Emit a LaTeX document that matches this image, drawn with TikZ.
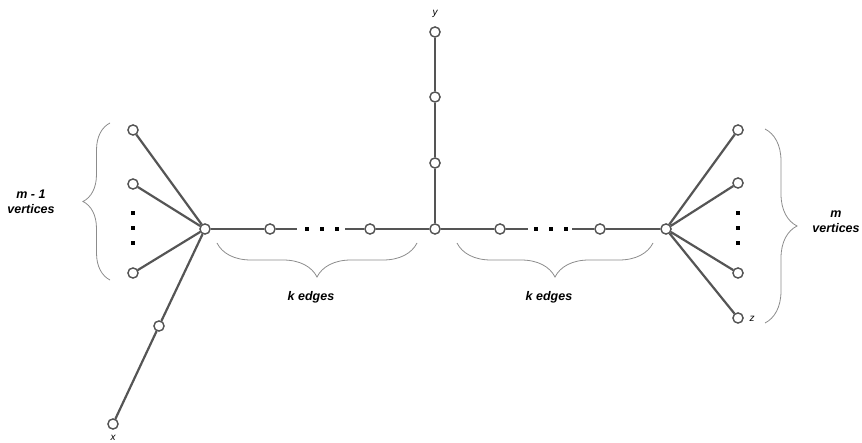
\documentclass[tikz,border=0pt]{standalone}
\usepackage{fontspec}
\setmainfont{Liberation Sans}
\usetikzlibrary{decorations.pathreplacing}
\definecolor{edgegray}{RGB}{85,85,85}
\definecolor{bracegray}{RGB}{140,140,140}
\begin{document}
\begin{tikzpicture}[x=1pt,y=-1pt,
  vtx/.style={circle,draw=edgegray,fill=white,line width=1.3pt,inner sep=0pt,minimum size=10pt},
  edge/.style={draw=edgegray,line width=2.2pt},
  dotmark/.style={rectangle,fill=black,inner sep=0pt,minimum size=4pt},
  bracestyle/.style={draw=bracegray,line width=0.8pt,decorate,decoration={brace,amplitude=#1}},
  bigtext/.style={font=\fontsize{12.5}{15}\selectfont\bfseries\itshape,align=center},
  lbl/.style={font=\fontsize{10}{12}\selectfont\itshape}]
\useasboundingbox (0,0) rectangle (862,443);
% coordinates for line ends near dots
\coordinate (la) at (297,229);
\coordinate (lb) at (345,229);
\coordinate (ra) at (528,229);
\coordinate (rb) at (572,229);
% nodes
\node[vtx] (L) at (205,229) {};
\node[vtx] (C) at (435,229) {};
\node[vtx] (R) at (666,229) {};
\node[vtx] (l1) at (133,130) {};
\node[vtx] (l2) at (133,184) {};
\node[vtx] (l3) at (133,273) {};
\node[vtx] (x1) at (159,326) {};
\node[vtx] (x) at (113,424) {};
\node[vtx] (p1) at (270,229) {};
\node[vtx] (p2) at (370,229) {};
\node[vtx] (q1) at (500,229) {};
\node[vtx] (q2) at (600,229) {};
\node[vtx] (y1) at (435,163) {};
\node[vtx] (y2) at (435,97) {};
\node[vtx] (y) at (435,32) {};
\node[vtx] (r1) at (738,130) {};
\node[vtx] (r2) at (738,183) {};
\node[vtx] (r3) at (738,273) {};
\node[vtx] (z) at (738,318) {};
% dots
\node[dotmark] (ld1) at (133,213) {};
\node[dotmark] (ld2) at (133,228) {};
\node[dotmark] (ld3) at (133,243) {};
\node[dotmark] (rd1) at (738,213) {};
\node[dotmark] (rd2) at (738,228) {};
\node[dotmark] (rd3) at (738,243) {};
\node[dotmark] (hd1) at (307,229) {};
\node[dotmark] (hd2) at (322,229) {};
\node[dotmark] (hd3) at (337,229) {};
\node[dotmark] (gd1) at (536,229) {};
\node[dotmark] (gd2) at (551,229) {};
\node[dotmark] (gd3) at (566,229) {};
% edges
\path[edge] (L) -- (l1) (L) -- (l2) (L) -- (l3) (L) -- (x1) (x1) -- (x);
\path[edge] (L) -- (p1) (p1) -- (la) (lb) -- (p2) (p2) -- (C);
\path[edge] (C) -- (q1) (q1) -- (ra) (rb) -- (q2) (q2) -- (R);
\path[edge] (C) -- (y1) (y1) -- (y2) (y2) -- (y);
\path[edge] (R) -- (r1) (R) -- (r2) (R) -- (r3) (R) -- (z);
% redraw vertices on top
\foreach \n in {L,C,R,l1,l2,l3,x1,x,p1,p2,q1,q2,y1,y2,y,r1,r2,r3,z}
  \node[vtx] at (\n) {};
% braces
\draw[bracestyle=27pt] (110,280) -- (110,123);
\draw[bracestyle=34pt] (417,243) -- (217,243);
\draw[bracestyle=34pt] (653,243) -- (457,243);
\draw[bracestyle=32pt] (765,129) -- (765,323);
% labels
\node[bigtext] (t1) at (31,202) {m - 1\\vertices};
\node[bigtext] (t2) at (836,222) {m\\vertices};
\node[bigtext] (t3) at (311,297) {k edges};
\node[bigtext] (t4) at (549,297) {k edges};
\node[lbl] (tx) at (113,438) {x};
\node[lbl] (ty) at (435,14) {y};
\node[lbl] (tz) at (752,319) {z};
\end{tikzpicture}
\end{document}
